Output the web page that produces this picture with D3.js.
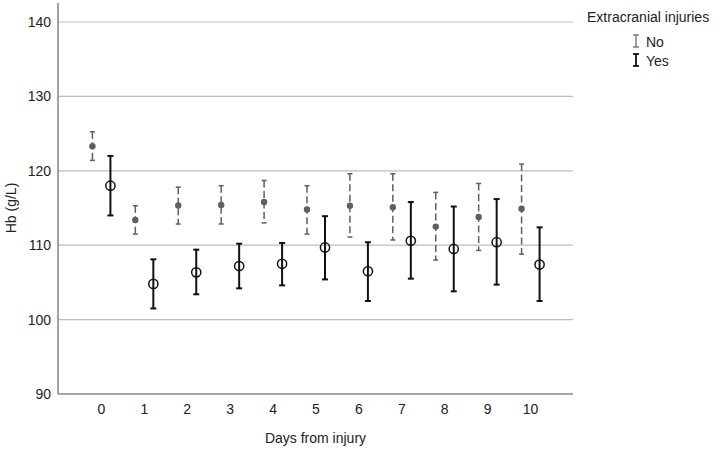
<!DOCTYPE html>
<html>
<head>
<meta charset="utf-8">
<script src="https://cdn.jsdelivr.net/npm/d3@7"></script>
<style>
  body { margin: 0; background: #fff; }
  text { font-family: "Liberation Sans", Arial, sans-serif; fill: #222; }
</style>
</head>
<body>
<div id="chart"></div>
<script>
const days = [0, 1, 2, 3, 4, 5, 6, 7, 8, 9, 10]

// Extracranial injuries = No
const noMean  = [123.3, 113.4, 115.35, 115.4, 115.8, 114.8, 115.3, 115.1, 112.5, 113.8, 114.9]
const noLow   = [121.4, 111.5, 112.85, 112.85, 113.0, 111.5, 111.1, 110.7, 108.0, 109.3, 108.8]
const noHigh  = [125.25, 115.3, 117.8, 118.0, 118.7, 118.0, 119.6, 119.6, 117.1, 118.3, 120.9]

// Extracranial injuries = Yes
const yesMean = [118.0, 104.8, 106.35, 107.2, 107.5, 109.7, 106.5, 110.6, 109.5, 110.4, 107.4]
const yesLow  = [114.0, 101.5, 103.4, 104.2, 104.6, 105.4, 102.5, 105.5, 103.8, 104.7, 102.5]
const yesHigh = [122.0, 108.1, 109.4, 110.2, 110.3, 113.9, 110.4, 115.8, 115.2, 116.2, 112.4]

const yTicks = [90, 100, 110, 120, 130, 140]

const width = 714, height = 449

const svg = d3.select("#chart")
    .append("svg")
    .attr("width", width)
    .attr("height", height)

const x = d3.scaleLinear().domain([-1, 11]).range([58, 573])
const y = d3.scaleLinear().domain([90, 140]).range([394, 22])

// gridlines
svg.append("g")
  .selectAll("line")
  .data(yTicks.filter(d => d > 90))
  .join("line")
  .attr("x1", x(-1))
  .attr("x2", x(11))
  .attr("y1", d => y(d))
  .attr("y2", d => y(d))
  .attr("stroke", "#bdbdbd")
  .attr("stroke-width", 1.2)

// axes
const yAxis = svg.append("g")
    .attr("transform", `translate(${x(-1)},0)`)
    .call(d3.axisLeft(y).tickValues(yTicks).tickSize(0).tickPadding(7))
yAxis.select(".domain").remove()
yAxis.selectAll("text").attr("font-size", 14).attr("fill", "#222")
  .style("font-family", '"Liberation Sans", Arial, sans-serif')

const xAxis = svg.append("g")
    .attr("transform", `translate(0,${y(90)})`)
    .call(d3.axisBottom(x).tickValues(days).tickSize(0).tickPadding(10).tickFormat(d3.format("d")))
xAxis.select(".domain").remove()
xAxis.selectAll("text").attr("font-size", 14).attr("fill", "#222")
  .style("font-family", '"Liberation Sans", Arial, sans-serif')

svg.append("line")
  .attr("x1", x(-1)).attr("x2", x(-1))
  .attr("y1", 3).attr("y2", y(90))
  .attr("stroke", "#8a8a8a").attr("stroke-width", 1.6)
svg.append("line")
  .attr("x1", x(-1)).attr("x2", x(11))
  .attr("y1", y(90)).attr("y2", y(90))
  .attr("stroke", "#8a8a8a").attr("stroke-width", 1.6)

// axis titles
svg.append("text")
  .attr("x", x(5))
  .attr("y", 443)
  .attr("text-anchor", "middle")
  .attr("font-size", 14)
  .text("Days from injury")

svg.append("text")
  .attr("transform", `translate(16,${y(115)}) rotate(-90)`)
  .attr("text-anchor", "middle")
  .attr("font-size", 14)
  .text("Hb (g/L)")

// series
const series = [
  {name: "No",  mean: noMean,  low: noLow,  high: noHigh,  dx: -8.5, color: "#5f5f5f", width: 1.5, dash: "7,3.5", cap: 2.5},
  {name: "Yes", mean: yesMean, low: yesLow, high: yesHigh, dx: 9.5,  color: "#111",    width: 2,   dash: null,    cap: 3}
]

series.forEach(s => {
  const g = svg.append("g")
  const data = days.map((d, i) => ({day: d, mean: s.mean[i], low: s.low[i], high: s.high[i]}))

  g.selectAll(".bar")
    .data(data)
    .join("line")
    .attr("x1", d => x(d.day) + s.dx)
    .attr("x2", d => x(d.day) + s.dx)
    .attr("y1", d => y(d.high))
    .attr("y2", d => y(d.low))
    .attr("stroke", s.color)
    .attr("stroke-width", s.width)
    .attr("stroke-dasharray", s.dash)

  ;["high", "low"].forEach(k => {
    g.selectAll(".cap-" + k)
      .data(data)
      .join("line")
      .attr("x1", d => x(d.day) + s.dx - s.cap)
      .attr("x2", d => x(d.day) + s.dx + s.cap)
      .attr("y1", d => y(d[k]))
      .attr("y2", d => y(d[k]))
      .attr("stroke", s.color)
      .attr("stroke-width", s.width)
  })

  g.selectAll("circle")
    .data(data)
    .join("circle")
    .attr("cx", d => x(d.day) + s.dx)
    .attr("cy", d => y(d.mean))
    .attr("r", s.name === "No" ? 3.2 : 4.6)
    .attr("fill", s.name === "No" ? s.color : "none")
    .attr("stroke", s.color)
    .attr("stroke-width", s.name === "No" ? 0 : 1.5)
})

// legend
svg.append("text")
  .attr("x", 587)
  .attr("y", 22)
  .attr("font-size", 14)
  .text("Extracranial injuries")

const legend = svg.append("g")
  .selectAll("g")
  .data(series)
  .join("g")
  .attr("transform", (d, i) => `translate(636,${41 + i * 19})`)

legend.append("line")
  .attr("x1", 0).attr("x2", 0).attr("y1", -6).attr("y2", 6)
  .attr("stroke", d => d.color).attr("stroke-width", d => d.name === "No" ? 1.2 : 1.8)
legend.append("line")
  .attr("x1", -3).attr("x2", 3).attr("y1", -6).attr("y2", -6)
  .attr("stroke", d => d.color).attr("stroke-width", d => d.name === "No" ? 1.2 : 1.8)
legend.append("line")
  .attr("x1", -3).attr("x2", 3).attr("y1", 6).attr("y2", 6)
  .attr("stroke", d => d.color).attr("stroke-width", d => d.name === "No" ? 1.2 : 1.8)
legend.append("text")
  .attr("x", 10)
  .attr("y", 5.5)
  .attr("font-size", 14)
  .text(d => d.name)
</script>
</body>
</html>
